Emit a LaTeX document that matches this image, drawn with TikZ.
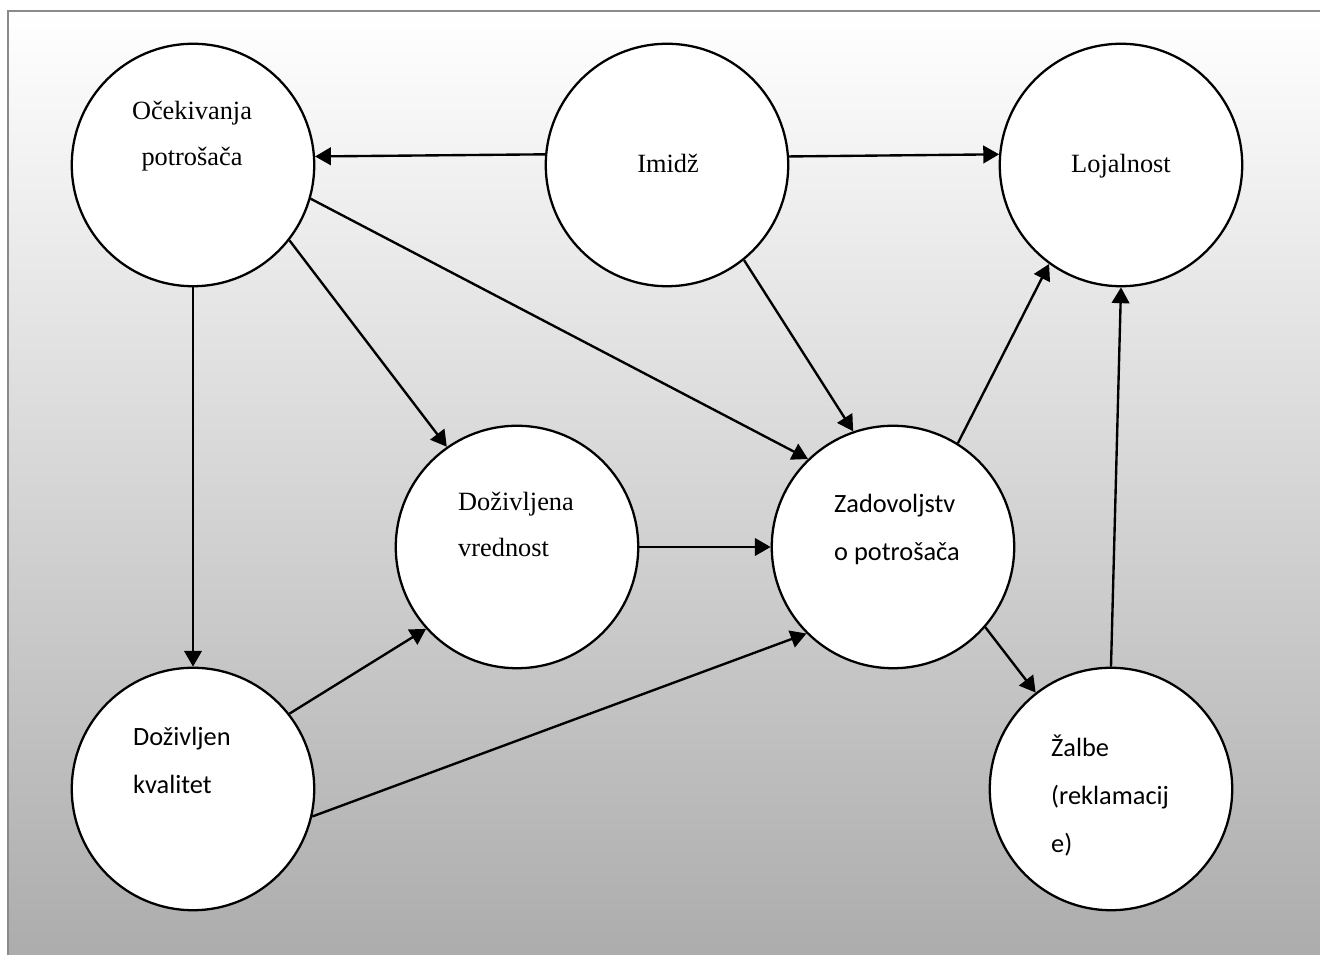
\documentclass[tikz,border=0pt]{standalone}
\usepackage{fontspec}
\setmainfont{Liberation Serif}
\newfontfamily\calibri{Carlito}
\usetikzlibrary{arrows.meta,positioning}
\definecolor{framegray}{RGB}{138,138,138}
\definecolor{shadegray}{RGB}{172,172,172}

\begin{document}
\begin{tikzpicture}[x=0.02cm, y=-0.02cm,
    factor/.style={draw, circle, line width=1.3pt, fill=white, minimum size=4.85cm, inner sep=0pt},
    serif/.style={font=\fontsize{15}{26.7}\selectfont, align=center, anchor=base},
    sans/.style={font=\calibri\fontsize{15}{27.6}\selectfont, align=left, anchor=base west},
    arrow/.style={-{Triangle[length=9pt, width=10pt]}, line width=1.35pt}
  ]
    \clip (0,0) rectangle (1320,955);
    \fill[white] (0,0) rectangle (1320,955);
    \draw[framegray, line width=1.2pt, top color=white, bottom color=shadegray] (8,11) rectangle (1324,960);

    \node[factor] (ocek)  at (193,165)  {};
    \node[factor] (imidz) at (667,165)  {};
    \node[factor] (lojal) at (1121,165) {};
    \node[factor] (vred)  at (517,547)  {};
    \node[factor] (zadov) at (893,547)  {};
    \node[factor] (kval)  at (193,789)  {};
    \node[factor] (zalbe) at (1111,789) {};

    % anchor base = last line
    \node[serif] (ocektxt)  at (192,166)  {Očekivanja\\potrošača};
    \node[serif] (imidztxt) at (668,173)  {Imidž};
    \node[serif] (lojaltxt) at (1121,173) {Lojalnost};
    \node[serif, align=left, anchor=base west] (vredtxt) at (452,557) {Doživljena\\vrednost};
    \node[sans] (zadovtxt) at (828,561)  {Zadovoljstv\\o potrošača};
    \node[sans] (kvaltxt)  at (127,794)  {Doživljen\\kvalitet};
    \node[sans] (zalbetxt) at (1045,853) {Žalbe\\(reklamacij\\e)};

    \draw[arrow] (imidz.175.8) -- (ocek.4.2);
    \draw[arrow] (imidz.4.7) -- (lojal.175.3);
    \draw[arrow] (ocek.south) -- (kval.north);
    \draw[arrow] (ocek.-38.4) -- (vred.125.4);
    \draw[arrow] (ocek.-16) -- (zadov.134.3);
    \draw[arrow] (imidz.-51.5) -- (zadov.109);
    \draw[arrow] (vred.east) -- (zadov.west);
    \draw[arrow] (kval.38.4) -- (vred.222.4);
    \draw[arrow] (kval.-13) -- (zadov.225.7);
    \draw[arrow] (zadov.58.4) -- (lojal.234.4);
    \draw[arrow] (zadov.-41.5) -- (zalbe.128.6);
    \draw[arrow] (zalbe.north) -- (lojal.south);
\end{tikzpicture}
\end{document}
